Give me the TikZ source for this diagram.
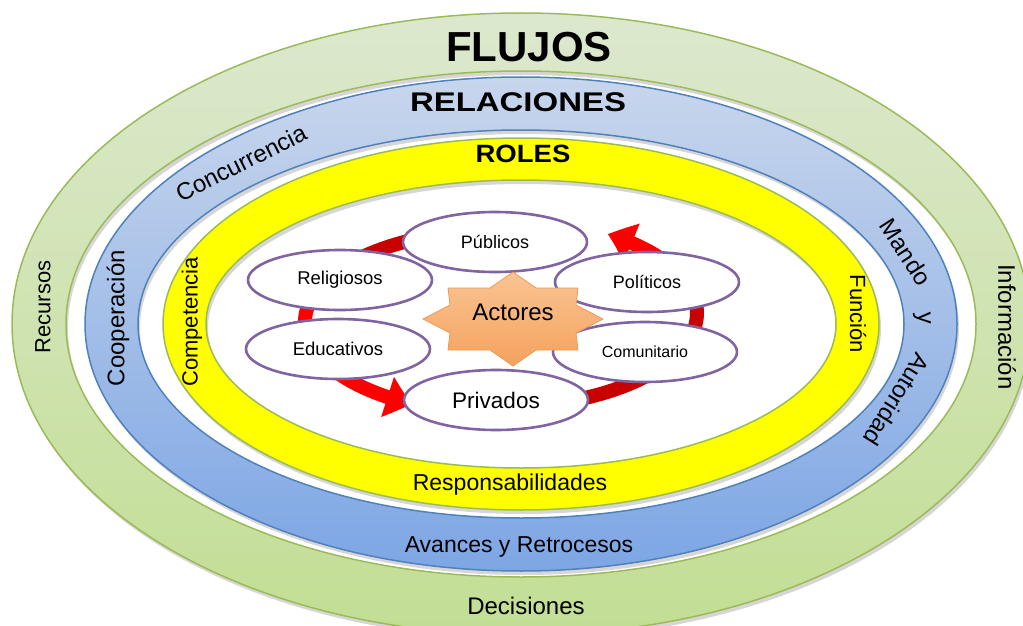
\documentclass[tikz,border=0pt]{standalone}
\usepackage{fontspec}
\setmainfont{Liberation Sans}
\usetikzlibrary{shapes.geometric,arrows.meta,bending}
\definecolor{gtop}{HTML}{DCE8CE}
\definecolor{gbot}{HTML}{C2DE93}
\definecolor{gline}{HTML}{9BBB59}
\definecolor{btop}{HTML}{C8D6EC}
\definecolor{bbot}{HTML}{7DA6E4}
\definecolor{bline}{HTML}{4F81BD}
\definecolor{ylw}{HTML}{FFFF00}
\definecolor{purp}{HTML}{8064A2}
\definecolor{arrred}{HTML}{FF0000}
\definecolor{arrdark}{HTML}{C80000}
\definecolor{startop}{HTML}{FAC493}
\definecolor{starbot}{HTML}{F4A25E}
\definecolor{starline}{HTML}{EE9A55}
\begin{document}
\begin{tikzpicture}[x=1pt,y=-1pt,
  lbl/.style={inner sep=0pt, font=\fontsize{#1}{#1}\selectfont},
  lbl/.default=22,
  ttl/.style={inner sep=0pt, font=\bfseries\fontsize{#1}{#1}\selectfont},
  actor/.style={ellipse, draw=purp, line width=2.6pt, fill=white,
    minimum width=184pt, minimum height=60pt, inner sep=0pt},
  shadowring/.style={even odd rule, fill=black, opacity=0.16},
  redbody/.style={draw=arrdark, line width=14pt},
  redarr/.style={draw=arrred, line width=14pt,
    -{Triangle[length=26pt,width=40pt,bend]}}
]
\useasboundingbox (0,0) rectangle (1023,626);
\clip (0,0) rectangle (1023,626);
% ---- green ring (FLUJOS)
\fill[shadowring] (523,328) ellipse [x radius=509, y radius=311]
                  (523,328) ellipse [x radius=455, y radius=253];
\shade[even odd rule, top color=gtop, bottom color=gbot]
   (521,324) ellipse [x radius=509, y radius=311]
   (521,324) ellipse [x radius=455, y radius=253];
\draw[gline, line width=1.5pt] (521,324) ellipse [x radius=509, y radius=311];
\draw[gline, line width=1.5pt] (521,324) ellipse [x radius=455, y radius=253];
% ---- blue ring (RELACIONES)
\fill[shadowring] (523,328) ellipse [x radius=436, y radius=247]
                  (523,328) ellipse [x radius=383, y radius=194];
\shade[even odd rule, top color=btop, bottom color=bbot]
   (521,324) ellipse [x radius=436, y radius=247]
   (521,324) ellipse [x radius=383, y radius=194];
\draw[bline, line width=1.5pt] (521,324) ellipse [x radius=436, y radius=247];
\draw[bline, line width=1.5pt] (521,324) ellipse [x radius=383, y radius=194];
% ---- yellow ring (ROLES)
\fill[shadowring] (523,328) ellipse [x radius=358, y radius=186]
                  (523,328) ellipse [x radius=315, y radius=144];
\fill[even odd rule, ylw]
   (521,324) ellipse [x radius=358, y radius=186]
   (521,324) ellipse [x radius=315, y radius=144];
\draw[gline, line width=1.5pt] (521,324) ellipse [x radius=358, y radius=186];
\draw[gline, line width=1.5pt] (521,324) ellipse [x radius=315, y radius=144];

% ---- ring labels
\node[ttl=42] (flujos) at (529,47) {FLUJOS};
\node[ttl=27, xscale=1.22] (relaciones) at (518,102) {RELACIONES};
\node[ttl=25, xscale=1.1] (roles) at (523,154) {ROLES};
\node[lbl=22, rotate=90] (recursos) at (43,307) {Recursos};
\node[lbl=24, rotate=-90] (informacion) at (1007,327) {Información};
\node[lbl=24] (decisiones) at (526,606) {Decisiones};
\node[lbl=24, rotate=90] (cooperacion) at (118,318) {Cooperación};
\node[lbl=24, rotate=26.6] (concurrencia) at (241,163) {Concurrencia};
\node[lbl=24, rotate=-57] (mando) at (906,252) {Mando};
\node[lbl=24, rotate=-88] (yy) at (922,318) {y};
\node[lbl=24, rotate=-122] (autoridad) at (897,400) {Autoridad};
\node[lbl=23] (avances) at (519,547) {Avances y Retrocesos};
\node[lbl=22, rotate=90] (competencia) at (192,322) {Competencia};
\node[lbl=22, rotate=-90] (funcion) at (858,314) {Función};
\node[lbl=23] (responsab) at (510,485) {Responsabilidades};

% ---- circular arrows
\draw[redbody] (501,322) ++(262:196 and 92)
   arc[start angle=262, end angle=198, x radius=196, y radius=92];
\draw[redarr] (501,322) ++(200:196 and 92)
   arc[start angle=200, end angle=117, x radius=196, y radius=92];
\draw[redbody] (501,313) ++(80:196 and 94)
   arc[start angle=80, end angle=-22, x radius=196, y radius=94];
\draw[redarr] (501,313) ++(-20:196 and 94)
   arc[start angle=-20, end angle=-57, x radius=196, y radius=94];

% ---- actors
\node[actor] (publicos) at (495,242) {\fontsize{18}{18}\selectfont Públicos};
\node[actor] (religiosos) at (340,280) {\fontsize{18.5}{18.5}\selectfont Religiosos};
\node[actor] (politicos) at (647,282) {\fontsize{18}{18}\selectfont Políticos};
\node[actor] (educativos) at (338,349) {\fontsize{18.5}{18.5}\selectfont Educativos};
\node[actor] (comunitario) at (645,352) {\fontsize{16}{16}\selectfont Comunitario};
\node[actor] (privados) at (496,400) {\fontsize{22.5}{22.5}\selectfont Privados};

% ---- star
\shade[top color=startop, bottom color=starbot, draw=starline, line width=0.8pt]
  (603,319) -- (576,305) -- (578,288) -- (536,288) -- (513,272) -- (490,288)
  -- (448,288) -- (450,305) -- (423,319) -- (450,333) -- (448,350) -- (490,350)
  -- (513,366) -- (536,350) -- (578,350) -- (576,333) -- cycle;
\node[lbl=24] (actores) at (513,312) {Actores};
\end{tikzpicture}
\end{document}
